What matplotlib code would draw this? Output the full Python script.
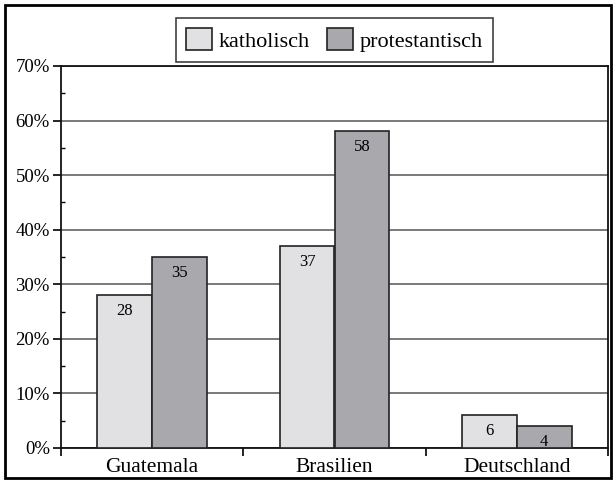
import matplotlib
matplotlib.use("Agg")
import matplotlib.pyplot as plt
import numpy as np
from matplotlib.patches import Rectangle

categories = ["Guatemala", "Brasilien", "Deutschland"]
katholisch = [28, 37, 6]
protestantisch = [35, 58, 4]
series_names = ["katholisch", "protestantisch"]

plt.rcParams['font.family'] = ['Liberation Serif', 'DejaVu Serif']

fig = plt.figure(figsize=(6.14, 4.83), dpi=100)
ax = fig.add_axes([61/614, 1-448/483, (608-61)/614, (448-66)/483])

x = np.arange(len(categories))
w = 0.3
c1, c2 = "#e1e1e3", "#a9a9ad"
b1 = ax.bar(x - w/2, katholisch, w, color=c1, edgecolor="#222222", linewidth=1.2, label=series_names[0], zorder=3)
b2 = ax.bar(x + w/2, protestantisch, w, color=c2, edgecolor="#222222", linewidth=1.2, label=series_names[1], zorder=3)

for bars, vals in ((b1, katholisch), (b2, protestantisch)):
    for b, v in zip(bars, vals):
        ax.annotate(str(v), (b.get_x() + b.get_width()/2, v), xytext=(0, -16),
                    textcoords="offset pixels", ha="center", va="center", fontsize=12, zorder=4)

ax.set_xlim(-0.5, 2.5)
ax.set_ylim(0, 70)
ax.set_yticks(np.arange(0, 71, 10))
ax.set_yticklabels([f"{v}%" for v in range(0, 71, 10)], fontsize=13.5)
ax.set_yticks(np.arange(5, 70, 10), minor=True)
ax.tick_params(axis='y', which='major', direction='out', length=6, width=1.2, pad=2)
ax.tick_params(axis='y', which='minor', direction='in', length=3, width=1)
ax.set_xticks(x)
ax.set_xticklabels(categories, fontsize=15.5)
ax.tick_params(axis='x', which='major', length=0, pad=7)
ax.set_xticks([-0.5, 0.5, 1.5, 2.5], minor=True)
ax.tick_params(axis='x', which='minor', direction='out', length=6, width=1.2)
ax.yaxis.grid(True, color="#555555", linewidth=1.1, zorder=0)
for s in ax.spines.values():
    s.set_linewidth(1.3)
    s.set_color("#111111")

leg = ax.legend(loc="lower center", bbox_to_anchor=(0.5, 1.011), borderaxespad=0, ncol=2, fontsize=16,
                frameon=True, fancybox=False, edgecolor="#111111", handlelength=1.15,
                handleheight=1.15, handletextpad=0.3, columnspacing=0.8, borderpad=0.45)
leg.get_frame().set_linewidth(1.2)

fig.patches.append(Rectangle((5/614, 5/483), (611-5)/614, (478-5)/483, transform=fig.transFigure,
                             fill=False, edgecolor="black", linewidth=2))

fig.savefig("out.png", dpi=100)
